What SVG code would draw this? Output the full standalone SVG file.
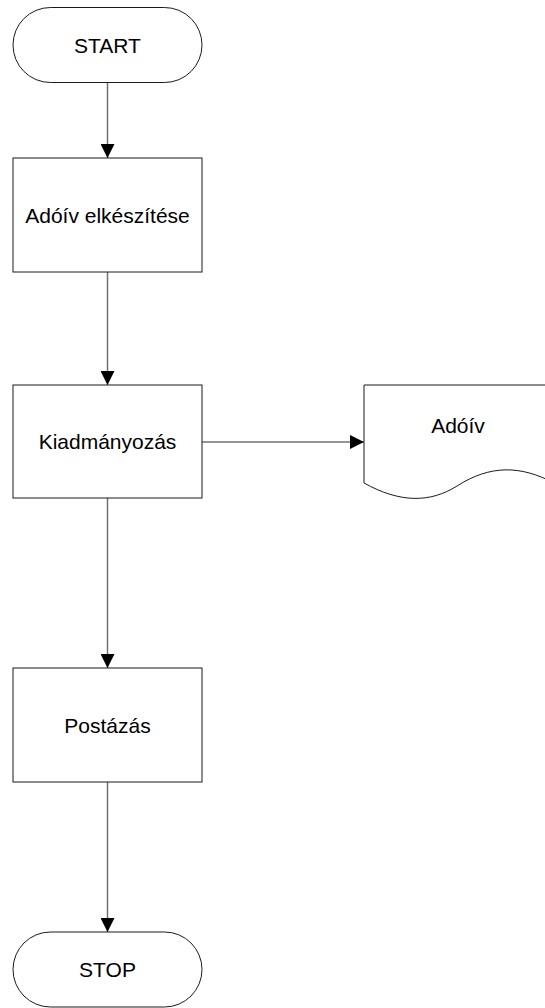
<svg xmlns="http://www.w3.org/2000/svg" width="545" height="1008" viewBox="0 0 545 1008">
  <style>
    .shape { fill: #ffffff; stroke: #1a1a1a; stroke-width: 1; }
    .label { font-family: "Liberation Sans", Arial, sans-serif; font-size: 21px; fill: #000000; text-anchor: middle; }
    .conn { fill: none; stroke: #707070; stroke-width: 1.5; }
  </style>
  <defs>
    <marker id="arrow" viewBox="0 0 14 14" refX="14" refY="7" markerWidth="14" markerHeight="14" markerUnits="userSpaceOnUse" orient="auto">
      <path d="M0,0 L14,7 L0,14 Z" fill="#000000"/>
    </marker>
  </defs>
  <rect width="545" height="1008" fill="#ffffff"/>

  <g id="connectors">
    <line class="conn" x1="107.5" y1="82.5" x2="107.5" y2="158" marker-end="url(#arrow)"/>
    <line class="conn" x1="107.5" y1="272" x2="107.5" y2="385" marker-end="url(#arrow)"/>
    <line class="conn" x1="202" y1="442" x2="364" y2="442" marker-end="url(#arrow)"/>
    <line class="conn" x1="107.5" y1="498" x2="107.5" y2="668" marker-end="url(#arrow)"/>
    <line class="conn" x1="107.5" y1="782" x2="107.5" y2="932" marker-end="url(#arrow)"/>
  </g>

  <g id="start">
    <rect class="shape" x="13" y="7.5" width="189" height="75" rx="37.5" ry="37.5"/>
    <text class="label" x="107.5" y="53">START</text>
  </g>

  <g id="adoiv-elkeszitese">
    <rect class="shape" x="13" y="158" width="189" height="114"/>
    <text class="label" x="107.5" y="222.5">Adóív elkészítése</text>
  </g>

  <g id="kiadmanyozas">
    <rect class="shape" x="13" y="385" width="189" height="113"/>
    <text class="label" x="107.5" y="448.5">Kiadmányozás</text>
  </g>

  <g id="adoiv-document">
    <path class="shape" d="M364,385 H554 V483 C520,465 490,465 457,486 C430,503 400,503 364,483 Z"/>
    <text class="label" x="458" y="433">Adóív</text>
  </g>

  <g id="postazas">
    <rect class="shape" x="13" y="668" width="189" height="114"/>
    <text class="label" x="107.5" y="732.5">Postázás</text>
  </g>

  <g id="stop">
    <rect class="shape" x="13" y="932" width="189" height="75" rx="37.5" ry="37.5"/>
    <text class="label" x="107.5" y="977">STOP</text>
  </g>
</svg>
